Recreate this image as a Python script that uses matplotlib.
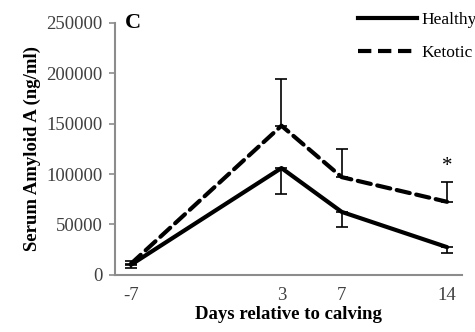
import matplotlib
matplotlib.use('Agg')
import matplotlib.pyplot as plt
from matplotlib.lines import Line2D
import numpy as np

plt.rcParams['font.family'] = ['Liberation Serif', 'DejaVu Serif']

# data
days = [-7, 3, 7, 14]
healthy = [10000, 106000, 62500, 27500]
healthy_err = [3000, 26000, 15000, 5500]     # drawn below the mean
ketotic = [11000, 148000, 97000, 72500]
ketotic_err = [3000, 46000, 28000, 19500]    # drawn above the mean
yticks = [0, 50000, 100000, 150000, 200000, 250000]

fig = plt.figure(figsize=(4.75, 3.32), dpi=100)
ax = fig.add_axes([0.242, 0.172, 0.731, 0.759])

zero = np.zeros(len(days))
ax.errorbar(days, healthy, yerr=[healthy_err, zero], fmt='none',
            ecolor='black', elinewidth=1.2, capsize=4, capthick=1.2, zorder=2)
ax.errorbar(days, ketotic, yerr=[zero, ketotic_err], fmt='none',
            ecolor='black', elinewidth=1.2, capsize=4, capthick=1.2, zorder=2)
ax.plot(days, healthy, color='black', lw=3, solid_capstyle='round',
        solid_joinstyle='round', zorder=3)
ax.plot(days, ketotic, color='black', lw=3, dashes=(3.2, 1.6),
        dash_capstyle='round', zorder=3)

ax.text(days[-1], ketotic[-1] + ketotic_err[-1] + 16000, '*',
        ha='center', va='center', fontsize=15)

ax.set_xlim(-8.06, 15.0)
ax.set_ylim(0, 250000)
ax.set_xticks(days)
ax.set_xticklabels([str(d) for d in days])
ax.set_yticks(yticks)
ax.set_yticklabels([str(v) for v in yticks])

for s in ['top', 'right']:
    ax.spines[s].set_visible(False)
for s in ['left', 'bottom']:
    ax.spines[s].set_color('#8c8c8c')
    ax.spines[s].set_linewidth(1.5)

ax.tick_params(axis='y', direction='out', length=4, width=1.2, color='#8c8c8c',
               labelsize=13.5, labelcolor='#404040', pad=5)
ax.tick_params(axis='x', length=0, labelsize=13.5, labelcolor='#404040', pad=9)

ax.set_xlabel('Days relative to calving', fontsize=13.5, fontweight='bold', labelpad=1)
ax.set_ylabel('Serum Amyloid A (ng/ml)', fontsize=13.5, fontweight='bold', labelpad=4)

ax.text(0.03, 1.0, 'C', transform=ax.transAxes, fontsize=16, fontweight='bold',
        ha='left', va='center')

handles = [Line2D([], [], color='black', lw=3),
           Line2D([], [], color='black', lw=3, dashes=(3.2, 1.6))]
fig.legend(handles, ['Healthy', 'Ketotic'], loc='upper left',
           bbox_to_anchor=(0.72, 1.012), frameon=False, fontsize=12.5,
           handlelength=3.4, handletextpad=0.25, labelspacing=1.0)

fig.savefig('out.png', dpi=100)
